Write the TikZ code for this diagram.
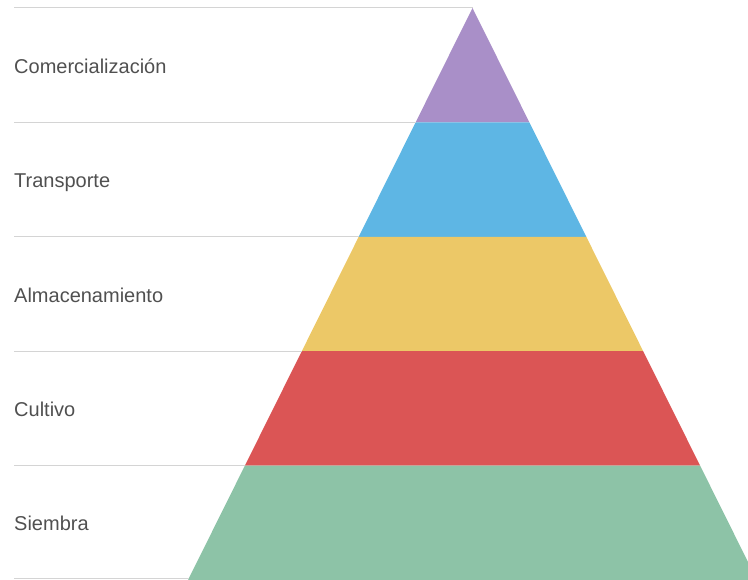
\documentclass[tikz,border=0pt]{standalone}
\usepackage{fontspec}
\setmainfont{Liberation Sans}
\definecolor{cpurple}{HTML}{A98FC8}
\definecolor{cblue}{HTML}{5EB6E4}
\definecolor{cyellow}{HTML}{ECC867}
\definecolor{cred}{HTML}{DB5555}
\definecolor{cgreen}{HTML}{8DC3A7}
\definecolor{cline}{HTML}{D4D4D4}
\definecolor{ctext}{HTML}{505050}
\begin{document}
\begin{tikzpicture}[x=1pt,y=-1pt,
  rule/.style={draw=cline,line width=1pt},
  lbl/.style={anchor=base west,inner sep=0pt,text=ctext,font=\fontsize{20}{24}\selectfont}]
\useasboundingbox (0,0) rectangle (748,580);
\begin{scope}
\clip (0,0) rectangle (748,580);
% pyramid bands
\fill[cpurple] (472.5,8) -- (529.4,122.4) -- (415.6,122.4) -- cycle;
\fill[cblue] (415.6,122.4) -- (529.4,122.4) -- (586.3,236.8) -- (358.7,236.8) -- cycle;
\fill[cyellow] (358.7,236.8) -- (586.3,236.8) -- (643.2,351.2) -- (301.8,351.2) -- cycle;
\fill[cred] (301.8,351.2) -- (643.2,351.2) -- (700.1,465.6) -- (244.9,465.6) -- cycle;
\fill[cgreen] (244.9,465.6) -- (700.1,465.6) -- (757,580) -- (188,580) -- cycle;
\end{scope}
% rule end points
\coordinate (l0) at (14,8);     \coordinate (r0) at (472.5,8);
\coordinate (l1) at (14,122.4); \coordinate (r1) at (415.6,122.4);
\coordinate (l2) at (14,236.8); \coordinate (r2) at (358.7,236.8);
\coordinate (l3) at (14,351.2); \coordinate (r3) at (301.8,351.2);
\coordinate (l4) at (14,465.6); \coordinate (r4) at (244.9,465.6);
\coordinate (l5) at (14,578.5); \coordinate (r5) at (189,578.5);
\foreach \i in {0,...,5} \draw[rule] (l\i) -- (r\i);
% labels
\node[lbl] (t1) at (14,73.5) {Comercialización};
\node[lbl] (t2) at (14,188) {Transporte};
\node[lbl] (t3) at (14,302.3) {Almacenamiento};
\node[lbl] (t4) at (14,416.6) {Cultivo};
\node[lbl] (t5) at (14,530.5) {Siembra};
\end{tikzpicture}
\end{document}
